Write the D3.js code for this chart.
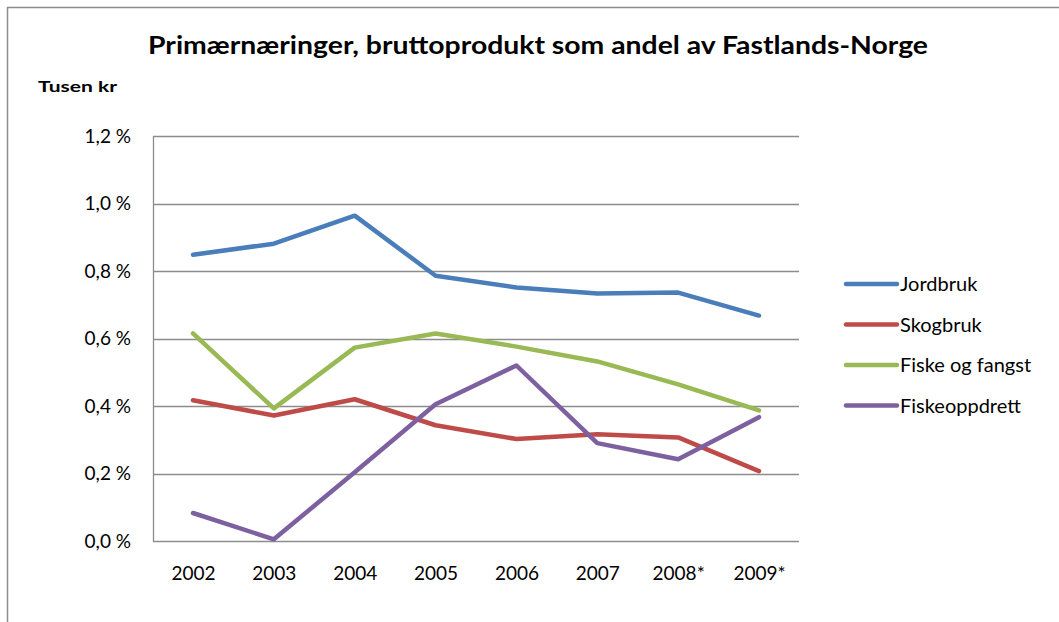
<html>
<head>
<meta charset="utf-8">
<title>Primærnæringer</title>
<script src="https://d3js.org/d3.v7.min.js"></script>
<style>
  body { margin: 0; background: #fff; }
  svg text { font-family: Lato, "Open Sans", sans-serif; fill: #000; }
</style>
</head>
<body>
<div id="chart"></div>
<script>
const years = ["2002", "2003", "2004", "2005", "2006", "2007", "2008*", "2009*"];
const seriesNames = ["Jordbruk", "Skogbruk", "Fiske og fangst", "Fiskeoppdrett"];
const jordbruk = [0.848, 0.881, 0.964, 0.786, 0.751, 0.733, 0.736, 0.668];
const skogbruk = [0.417, 0.372, 0.420, 0.343, 0.302, 0.316, 0.307, 0.207];
const fiske = [0.615, 0.393, 0.573, 0.615, 0.576, 0.532, 0.464, 0.387];
const oppdrett = [0.083, 0.005, 0.204, 0.405, 0.520, 0.290, 0.242, 0.367];
const yTicks = [0, 0.2, 0.4, 0.6, 0.8, 1.0, 1.2];
const colors = ["#4a7ebb", "#be4b48", "#98b954", "#7d60a0"];

const width = 1059, height = 622;
const svg = d3.select("#chart").append("svg")
  .attr("width", width).attr("height", height);

// outer frame (only top and left are visible in the picture)
svg.append("path")
  .attr("d", "M7.5,622 V7.5 H1059")
  .attr("fill", "none").attr("stroke", "#8c8c8c").attr("stroke-width", 1.5);

const x = d3.scalePoint().domain(years).range([193, 759]);
const y = d3.scaleLinear().domain([0, 1.2]).range([541, 136]);

// gridlines
svg.append("g").selectAll("line").data(yTicks).enter().append("line")
  .attr("x1", 153).attr("x2", 799)
  .attr("y1", d => Math.round(y(d)) + 0.5).attr("y2", d => Math.round(y(d)) + 0.5)
  .attr("stroke", "#8c8c8c").attr("stroke-width", 1.3);

svg.append("line")
  .attr("x1", 153.5).attr("x2", 153.5).attr("y1", y(1.2)).attr("y2", y(0) + 1)
  .attr("stroke", "#8c8c8c").attr("stroke-width", 1.3);

// y axis labels
const fmt = d => d.toFixed(1).replace(".", ",") + " %";
const yAxis = svg.append("g").attr("transform", "translate(131,0)")
  .call(d3.axisLeft(y).tickValues(yTicks).tickFormat(fmt).tickSize(0));
yAxis.select(".domain").remove();
yAxis.selectAll("text").attr("x", 0).style("font-size", "19px").style("font-family", "Lato, sans-serif");

// x axis labels
const xAxis = svg.append("g").attr("transform", "translate(0,566)")
  .call(d3.axisBottom(x).tickSize(0));
xAxis.select(".domain").remove();
xAxis.selectAll("text").attr("y", 0).attr("dy", "0.71em").style("font-size", "19px").style("font-family", "Lato, sans-serif");

// lines
const data = [jordbruk, skogbruk, fiske, oppdrett];
const line = d3.line().x((d, i) => x(years[i])).y(d => y(d));
svg.append("g").selectAll("path").data(data).enter().append("path")
  .attr("d", line)
  .attr("fill", "none")
  .attr("stroke", (d, i) => colors[i])
  .attr("stroke-width", 4.5)
  .attr("stroke-linejoin", "round")
  .attr("stroke-linecap", "round");

// legend
const legend = svg.append("g").attr("transform", "translate(846,284)");
const items = legend.selectAll("g").data(seriesNames).enter().append("g")
  .attr("transform", (d, i) => "translate(0," + i * 40.5 + ")");
items.append("line")
  .attr("x1", 0).attr("x2", 51).attr("y1", 0).attr("y2", 0)
  .attr("stroke", (d, i) => colors[i]).attr("stroke-width", 4.5).attr("stroke-linecap", "round");
items.append("text")
  .attr("x", 54).attr("y", 0).attr("dy", "0.35em")
  .style("font-size", "20px")
  .text(d => d);

// title
svg.append("text")
  .attr("x", 538).attr("y", 54)
  .attr("text-anchor", "middle")
  .attr("textLength", 780).attr("lengthAdjust", "spacingAndGlyphs")
  .style("font-size", "25px").style("font-weight", "bold")
  .text("Primærnæringer, bruttoprodukt som andel av Fastlands-Norge");

svg.append("text")
  .attr("x", 38).attr("y", 92)
  .attr("textLength", 79).attr("lengthAdjust", "spacingAndGlyphs")
  .style("font-size", "16px").style("font-weight", "bold")
  .text("Tusen kr");
</script>
</body>
</html>
